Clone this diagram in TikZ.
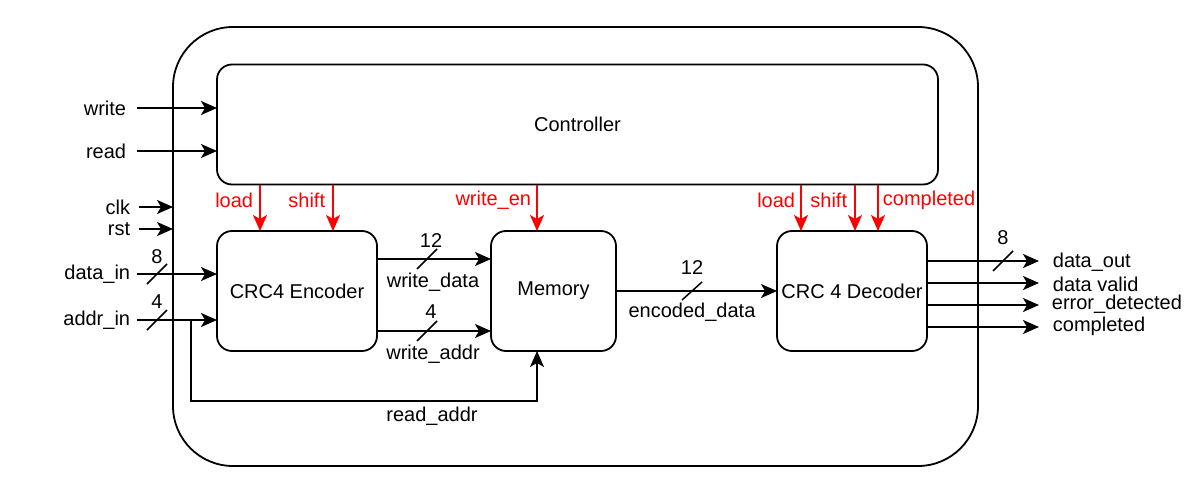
\documentclass[tikz,border=0pt]{standalone}
\usepackage{fontspec}
\setmainfont{Liberation Sans}
\usetikzlibrary{arrows.meta,calc}
\definecolor{sigred}{RGB}{255,0,0}
\begin{document}
\begin{tikzpicture}[x=1pt,y=-1pt,line width=1.8pt,
  font=\fontsize{20}{24}\selectfont,
  >={Stealth[length=16pt,width=14pt,inset=4pt]},
  blk/.style={draw,rounded corners=15pt,inner sep=0pt,outer sep=0pt,minimum height=120pt},
  lbl/.style={inner sep=0pt},
  ctl/.style={->,draw=sigred,color=sigred},
  ctllbl/.style={inner sep=0pt,text=sigred},
  bus/.style={line width=1.5pt}]
\useasboundingbox (0,0) rectangle (1198,492);
% blocks
\node[draw,rounded corners=60pt,inner sep=0pt,outer sep=0pt,minimum width=805pt,minimum height=439pt] (outer) at (575.5,246.5) {};
\node[blk,minimum width=721pt] (ctrl) at (577.5,124.5) {Controller};
\node[blk,minimum width=160pt] (enc) at (297,291) {CRC4 Encoder};
\node[blk,minimum width=125pt] (mem) at (553.5,291) {Memory};
\node[blk,minimum width=150pt] (dec) at (852,291) {CRC 4 Decoder};
% input coordinates
\coordinate (wr) at (137,108);
\coordinate (rd) at (137,151);
\coordinate (ck) at (139,207);
\coordinate (rs) at (139,229);
\coordinate (di) at (137,274);
\coordinate (ai) at (137,320);
\node[lbl,anchor=east] (wrl) at (127,108) {write};
\node[lbl,anchor=east] (rdl) at (127,151) {read};
\node[lbl,anchor=east] (ckl) at (131,207) {clk};
\node[lbl,anchor=east] (rsl) at (131,229) {rst};
\node[lbl,anchor=east] (dil) at (131,274) {data\_in};
\node[lbl,anchor=east] (ail) at (131,320) {addr\_in};
\draw[->] (wr) -- (ctrl.west |- wr);
\draw[->] (rd) -- (ctrl.west |- rd);
\draw[->] (ck) -- (outer.west |- ck);
\draw[->] (rs) -- (outer.west |- rs);
\draw[->] (di) -- (enc.west |- di);
\draw[->] (ai) -- (enc.west |- ai);
% bus slashes on inputs
\coordinate (s1) at (157,274);
\coordinate (s2) at (157,320);
\draw[bus] ($(s1)+(-10,10)$) -- ($(s1)+(10,-10)$);
\draw[bus] ($(s2)+(-10,10)$) -- ($(s2)+(10,-10)$);
\node[lbl] (n8a) at (157,257) {8};
\node[lbl] (n4a) at (157,302) {4};
% read_addr
\coordinate (ra1) at (191,320);
\coordinate (ra2) at (191,401);
\coordinate (ra3) at (537,401);
\draw[->] (ra1) -- (ra2) -- (ra3) -- (mem.south -| ra3);
\node[lbl] (ral) at (432,416) {read\_addr};
% encoder -> memory
\coordinate (wd) at (0,259);
\coordinate (wa) at (0,331);
\draw[->] (enc.east |- wd) -- (mem.west |- wd);
\draw[->] (enc.east |- wa) -- (mem.west |- wa);
\coordinate (s3) at (427,259);
\coordinate (s4) at (427,331);
\draw[bus] ($(s3)+(-10,10)$) -- ($(s3)+(10,-10)$);
\draw[bus] ($(s4)+(-10,10)$) -- ($(s4)+(10,-10)$);
\node[lbl] (n12a) at (431,241) {12};
\node[lbl] (wdl) at (433,282) {write\_data};
\node[lbl] (n4b) at (431,312) {4};
\node[lbl] (wal) at (433,354) {write\_addr};
% memory -> decoder
\draw[->] (mem.east) -- (dec.west);
\coordinate (s5) at (692,291);
\draw[bus] ($(s5)+(-10,9)$) -- ($(s5)+(10,-9)$);
\node[lbl] (n12b) at (692,268) {12};
\node[lbl] (edl) at (692,312) {encoded\_data};
% control signals
\coordinate (c1) at (260,0);
\coordinate (c2) at (333,0);
\coordinate (c3) at (537,0);
\coordinate (c4) at (801,0);
\coordinate (c5) at (855,0);
\coordinate (c6) at (878,0);
\draw[ctl] (ctrl.south -| c1) -- (enc.north -| c1);
\draw[ctl] (ctrl.south -| c2) -- (enc.north -| c2);
\draw[ctl] (ctrl.south -| c3) -- (mem.north -| c3);
\draw[ctl] (ctrl.south -| c4) -- (dec.north -| c4);
\draw[ctl] (ctrl.south -| c5) -- (dec.north -| c5);
\draw[ctl] (ctrl.south -| c6) -- (dec.north -| c6);
\node[ctllbl,anchor=east] (l1) at (254,200) {load};
\node[ctllbl,anchor=east] (l2) at (326,200) {shift};
\node[ctllbl,anchor=east] (l3) at (532,200) {write\_en};
\node[ctllbl,anchor=east] (l4) at (796,200) {load};
\node[ctllbl,anchor=east] (l5) at (848,200) {shift};
\node[ctllbl,anchor=west] (l6) at (882,200) {completed};
% outputs
\coordinate (o1) at (1039,261);
\coordinate (o2) at (1039,283);
\coordinate (o3) at (1039,305);
\coordinate (o4) at (1039,327);
\draw[->] (dec.east |- o1) -- (o1);
\draw[->] (dec.east |- o2) -- (o2);
\draw[->] (dec.east |- o3) -- (o3);
\draw[->] (dec.east |- o4) -- (o4);
\coordinate (s6) at (1003,261);
\draw[bus] ($(s6)+(-10,10)$) -- ($(s6)+(10,-10)$);
\node[lbl] (n8b) at (1003,238) {8};
\node[lbl,anchor=west] (ol1) at (1052,262) {data\_out};
\node[lbl,anchor=west] (ol2) at (1052,284) {data valid};
\node[lbl,anchor=west] (ol3) at (1051,304) {error\_detected};
\node[lbl,anchor=west] (ol4) at (1052,326) {completed};
\end{tikzpicture}
\end{document}
